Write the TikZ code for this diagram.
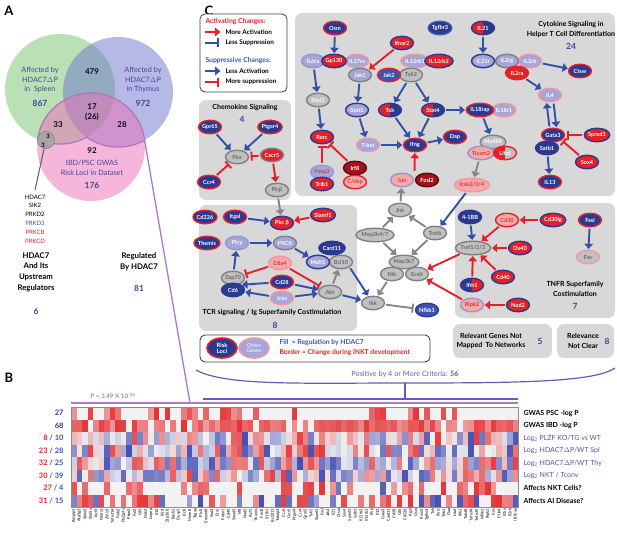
\documentclass[tikz,border=0pt]{standalone}
\usepackage{fontspec}
\setmainfont{Lato}
\usetikzlibrary{arrows.meta,shapes.geometric}

% gene colours
\definecolor{navyF}{RGB}{43,57,144}
\definecolor{blueF}{RGB}{62,84,178}
\definecolor{redF}{RGB}{230,32,40}
\definecolor{darkF}{RGB}{165,18,28}
\definecolor{darkB}{RGB}{90,10,15}
\definecolor{lavF}{RGB}{166,166,216}
\definecolor{lavB}{RGB}{150,150,208}
\definecolor{pinkF}{RGB}{246,168,168}
\definecolor{pinkB}{RGB}{244,150,160}
\definecolor{greyF}{RGB}{192,192,192}
\definecolor{greyB}{RGB}{128,128,128}
\definecolor{greyT}{RGB}{105,105,105}
\definecolor{geneRtxt}{RGB}{205,60,70}
% arrows, boxes, text
\definecolor{arrB}{RGB}{50,80,168}
\definecolor{arrR}{RGB}{232,30,40}
\definecolor{arrG}{RGB}{135,135,135}
\definecolor{boxF}{RGB}{216,216,216}
\definecolor{cntblue}{RGB}{60,70,160}
\definecolor{vtxt}{RGB}{70,70,155}
\definecolor{vgreen}{RGB}{130,200,120}
\definecolor{vblue}{RGB}{110,115,205}
\definecolor{vpink}{RGB}{235,110,180}
\definecolor{vline}{RGB}{175,120,195}
\definecolor{bracecol}{RGB}{95,95,180}
\definecolor{logpurp}{RGB}{105,75,160}
\definecolor{hmred}{RGB}{228,50,52}
\definecolor{hmblue}{RGB}{60,70,175}
\definecolor{hmwhite}{RGB}{242,242,242}

\begin{document}
\begin{tikzpicture}[x=1pt, y=-1pt,
    gene/.style={ellipse, line width=1.4pt, inner sep=0.2pt, minimum width=23pt,
      minimum height=13.5pt, font=\fontsize{5.6}{5.6}\selectfont\bfseries},
    navyfill/.style={fill=navyF, text=white},
    bluefill/.style={fill=blueF, text=white},
    redfill/.style={fill=redF, text=white},
    darkfill/.style={fill=darkF, text=white},
    lavfill/.style={fill=lavF, text=white},
    pinkfill/.style={fill=pinkF, text=geneRtxt},
    greyfill/.style={fill=greyF, text=greyT},
    navyrim/.style={draw=navyF},
    bluerim/.style={draw=blueF},
    redrim/.style={draw=redF},
    darkrim/.style={draw=darkB},
    lavrim/.style={draw=lavB},
    pinkrim/.style={draw=pinkB},
    greyrim/.style={draw=greyB},
    halves/.style 2 args={text=white, path picture={
        \fill[#1] (path picture bounding box.south west) rectangle (path picture bounding box.north);
        \fill[#2] (path picture bounding box.north) rectangle (path picture bounding box.south east);}},
    bluearr/.style={draw=arrB, line width=1.9pt, -{Triangle[length=5.2pt,width=8.5pt]}, shorten >=0.6pt, shorten <=1.2pt},
    redarr/.style={draw=arrR, line width=1.9pt, -{Triangle[length=5.2pt,width=8.5pt]}, shorten >=0.6pt, shorten <=1.2pt},
    greyarr/.style={draw=arrG, line width=1.9pt, -{Triangle[length=5.2pt,width=8.5pt]}, shorten >=0.6pt, shorten <=1.2pt},
    bluebar/.style={draw=arrB, line width=1.9pt, -{Bar[width=9pt,line width=1.9pt]}, shorten >=1.5pt, shorten <=1.2pt},
    redbar/.style={draw=arrR, line width=1.9pt, -{Bar[width=9pt,line width=1.9pt]}, shorten >=1.5pt, shorten <=1.2pt},
    greybar/.style={draw=arrG, line width=1.9pt, -{Bar[width=9pt,line width=1.9pt]}, shorten >=1.5pt, shorten <=1.2pt},
    panelbox/.style={fill=boxF, rounded corners=7pt},
    boxtitle/.style={font=\fontsize{7}{9.5}\selectfont\bfseries, align=center},
    count/.style={font=\fontsize{8.5}{9}\selectfont\bfseries, text=cntblue},
    panel/.style={font=\fontsize{13}{13}\selectfont\bfseries},
    vtext/.style={font=\fontsize{7.3}{9.5}\selectfont, text=vtxt, align=center},
    vnum/.style={font=\fontsize{8}{10}\selectfont\bfseries, text=black!80!navyF, align=center},
    legtext/.style={font=\fontsize{6.8}{7}\selectfont\bfseries, anchor=west},
    rowlab/.style={font=\fontsize{7}{7}\selectfont\bfseries, anchor=west},
    rownum/.style={font=\fontsize{7.5}{8}\selectfont\bfseries, anchor=east}]
  \useasboundingbox (0,0) rectangle (617,535);

  % ---------------- panel A: Venn ----------------
  \node[panel] (lblA) at (9,11) {A};
  \fill[vgreen, fill opacity=0.55] (60,89) circle[radius=55];
  \fill[vblue, fill opacity=0.5] (118,92) circle[radius=55];
  \fill[vpink, fill opacity=0.5] (91,147) circle[radius=54];
  % regulated by HDAC7 outline
  \draw[vline, line width=1.3pt] (37.6,139.2) arc[start angle=188.3, end angle=352.8, radius=54]
    arc[start angle=61.1, end angle=124.85, radius=55] arc[start angle=61.05, end angle=114, radius=55];
  \coordinate (vexit) at (144.6,140.2);
  \coordinate (hmjoin) at (190,403);
  \draw[vline, line width=1.3pt] (vexit) -- (hmjoin);
  % upstream regulators
  \node[circle, fill=black!35, draw=black!50, line width=0.6pt, minimum size=17pt, inner sep=0pt] (upc) at (46,140) {};
  \node[font=\fontsize{6}{6}\selectfont\bfseries] (up1) at (48,136) {3};
  \node[font=\fontsize{6}{6}\selectfont\bfseries] (up2) at (43,145) {3};
  \coordinate (uplist) at (35,190);
  \draw[black!60, line width=1.1pt] (upc) -- (uplist);

  \node[vtext] (spl) at (40,80) {Affected by\\HDAC7$\Delta$P\\in\ \ Spleen};
  \node[count] (n867) at (40,103) {867};
  \node[vtext] (thy) at (143,80) {Affected by\\HDAC7$\Delta$P\\in Thymus};
  \node[count] (n972) at (143,103) {972};
  \node[vnum] (n479) at (92,72) {479};
  \node[vnum] (n17) at (92,112) {17\\(26)};
  \node[vnum] (n33) at (58,125) {33};
  \node[vnum] (n28) at (122,125) {28};
  \node[vnum] (n92) at (92,151) {92};
  \node[vtext] (gwas) at (92,168) {IBD/PSC GWAS\\Risk Loci in Dataset};
  \node[count] (n176) at (92,185) {176};

  \node[font=\fontsize{6}{8.8}\selectfont, align=center] (hlist) at (35,219)
    {HDAC7\\SIK2\\PRKD2\\\textcolor{blueF}{PRKD3}\\\textcolor{redF}{PRKCB}\\\textcolor{redF}{PRKCD}};
  \node[font=\fontsize{7.8}{10.7}\selectfont\bfseries, align=center] (hreg) at (36,272)
    {HDAC7\\And Its\\Upstream\\Regulators};
  \node[count] (n6) at (36,311) {6};
  \node[font=\fontsize{7.8}{10.7}\selectfont\bfseries, align=center] (rbh) at (139,261.5)
    {Regulated\\By HDAC7};
  \node[count] (n81) at (139,288) {81};

  % ---------------- panel C: networks ----------------
  \node[panel] (lblC) at (209,11) {C};
  \fill[panelbox] (295,13) rectangle (615,196);
  \fill[panelbox] (199,100) rectangle (291,200);
  \fill[panelbox] (199,205) rectangle (357,331);
  \fill[panelbox] (455,203) rectangle (615,318);
  \fill[panelbox] (453,324) rectangle (552,358);
  \fill[panelbox] (557,324) rectangle (614,358);

  % legend of changes
  \draw[black!75, line width=0.8pt, rounded corners=5pt, fill=white] (200,14) rectangle (287,92);
  \node[legtext, text=redF] (lg1) at (202,22) {Activating Changes:};
  \coordinate (la1) at (205,32); \coordinate (lb1) at (221,32);
  \draw[redarr, shorten <=0pt] (la1) -- (lb1);
  \node[legtext, font=\fontsize{6.4}{7}\selectfont\bfseries] (lg2) at (222,32) {More Activation};
  \coordinate (la2) at (205,43); \coordinate (lb2) at (220,43);
  \draw[bluebar, shorten <=0pt] (la2) -- (lb2);
  \node[legtext, font=\fontsize{6.4}{7}\selectfont\bfseries] (lg3) at (222,43) {Less Suppression};
  \node[legtext, text=blueF] (lg4) at (202,61) {Suppressive Changes:};
  \coordinate (la3) at (205,71); \coordinate (lb3) at (221,71);
  \draw[bluearr, shorten <=0pt] (la3) -- (lb3);
  \node[legtext, font=\fontsize{6.4}{7}\selectfont\bfseries] (lg5) at (222,71) {Less Activation};
  \coordinate (la4) at (205,82); \coordinate (lb4) at (220,82);
  \draw[redbar, shorten <=0pt] (la4) -- (lb4);
  \node[legtext, font=\fontsize{6.4}{7}\selectfont\bfseries] (lg6) at (222,82) {More suppression};

  % box titles
  \node[boxtitle] (tcyt) at (571,29.5) {Cytokine Signaling in\\Helper T Cell Differentiation};
  \node[count] (n24) at (571,46) {24};
  \node[boxtitle] (tchem) at (245,108) {Chemokine Signaling};
  \node[count] (n4) at (242,119) {4};
  \node[boxtitle] (ttcr) at (272,313) {TCR signaling / Ig Superfamily Costimulation};
  \node[count] (n8a) at (275,325) {8};
  \node[boxtitle] (ttnfr) at (575,289) {TNFR Superfamily\\Costimulation};
  \node[count] (n7) at (575,306) {7};
  \node[boxtitle] (trel) at (491,341) {Relevant Genes Not\\Mapped\ \ To Networks};
  \node[count] (n5) at (540,341) {5};
  \node[boxtitle] (tnc) at (583,341) {Relevance\\Not Clear};
  \node[count] (n8b) at (607,341) {8};

  % cytokine signaling genes
  \node[gene,lavfill,lavrim] (il6ra) at (313,61) {IL6ra};
  \node[gene,lavfill,pinkrim] (il27ra) at (357,61) {IL27ra};
  \node[gene,redfill,navyrim] (gp130) at (334,61) {Gp130};
  \node[gene,navyfill,redrim] (osm) at (335,28) {Osm};
  \node[gene,redfill,navyrim] (ifnar2) at (402,43) {Ifnar2};
  \node[gene,lavfill,pinkrim] (il12rb1) at (415,61) {IL12rb1};
  \node[gene,redfill,navyrim] (il12rb2) at (439,61) {IL12rb2};
  \node[gene,lavfill,greyrim] (jak1) at (360,75) {Jak1};
  \node[gene,greyfill,greyrim] (tyk2) at (411,75) {Tyk2};
  \node[gene,bluefill,redrim] (jak2) at (389,75) {Jak2};
  \node[gene,navyfill,bluerim] (tgfbr3) at (440,28) {Tgfbr3};
  \node[gene,halves={redF}{navyF},navyrim] (il21) at (483,28) {IL21};
  \node[gene,lavfill,pinkrim] (il2rb) at (530,61) {IL2rb};
  \node[gene,lavfill,greyrim] (il2rg) at (507,61) {IL2rg};
  \node[gene,lavfill,navyrim] (il21r) at (483,61) {IL21r};
  \node[gene,redfill,redrim] (il2ra) at (517,73) {IL2ra};
  \node[gene,navyfill,redrim] (ctsw) at (580,71) {Ctsw};
  \node[gene,lavfill,pinkrim] (il4) at (550,95) {IL4};
  \node[gene,greyfill,greyrim,text=white] (stat3) at (318,100) {Stat3};
  \node[gene,lavfill,navyrim] (stat1) at (357,110) {Stat1};
  \node[gene,halves={redF}{navyF},navyrim] (txk) at (390,110) {Txk};
  \node[gene,halves={redF}{navyF},navyrim] (stat4) at (433,110) {Stat4};
  \node[gene,lavfill,pinkrim] (il18r1) at (504,110) {IL18r1};
  \node[gene,navyfill,redrim] (il18rap) at (480,110) {IL18rap};
  \node[gene,redfill,navyrim] (rorc) at (322,137) {Rorc};
  \node[gene,lavfill,pinkrim] (tbet) at (368,145) {T-bet};
  \node[gene,navyfill,redrim] (ifng) at (415,145) {Ifng};
  \node[gene,navyfill,redrim] (dap) at (455,137) {Dap};
  \node[gene,greyfill,greyrim,text=white] (myd88) at (493,142) {Myd88};
  \node[gene,pinkfill,lavrim] (ticam2) at (481,153) {Ticam2};
  \node[gene,halves={redF}{greyF},redrim] (litaf) at (505,153) {Litaf};
  \node[gene,pinkfill,pinkrim] (irak) at (472,185) {Irak2/3/4};
  \node[gene,lavfill,lavrim,text=geneRtxt] (foxp3) at (322,172) {Foxp3};
  \node[gene,redfill,navyrim] (trib1) at (322,184) {Trib1};
  \node[gene,darkfill,darkrim] (irf8) at (355,168) {Irf8};
  \node[gene,pinkfill,redrim] (cebp) at (355,182) {C/ebp};
  \node[gene,pinkfill,lavrim] (jun) at (402,180) {Jun};
  \node[gene,darkfill,darkrim] (fosl2) at (427,180) {Fosl2};
  \node[gene,navyfill,redrim] (gata3) at (553,135) {Gata3};
  \node[gene,navyfill,navyrim] (satb1) at (547,148) {Satb1};
  \node[gene,redfill,navyrim] (spred1) at (597,135) {Spred1};
  \node[gene,redfill,navyrim] (sox4) at (587,162) {Sox4};
  \node[gene,navyfill,redrim] (il13) at (550,182) {IL13};

  % chemokine signaling genes
  \node[gene,navyfill,redrim] (gpr65) at (210,127) {Gpr65};
  \node[gene,navyfill,redrim] (ptger4) at (270,127) {Ptger4};
  \node[gene,greyfill,greyrim] (pka) at (237,157) {Pka};
  \node[gene,redfill,greyrim] (cxcr5) at (272,155) {Cxcr5};
  \node[gene,navyfill,redrim] (ccr4) at (209,182) {Ccr4};
  \node[gene,greyfill,greyrim] (plcb) at (277,190) {Plcβ};

  % TCR signaling genes
  \node[gene,navyfill,redrim] (cd226) at (205,217) {Cd226};
  \node[gene,navyfill,redrim] (itgal) at (235,217) {Itgal};
  \node[gene,redfill,navyrim] (pkcb) at (282,223) {Pkc β};
  \node[gene,redfill,navyrim] (slamf1) at (323,215) {Slamf1};
  \node[gene,navyfill,redrim] (themis) at (207,243) {Themis};
  \node[gene,lavfill,lavrim] (plcg) at (237,243) {Plcγ};
  \node[gene,lavfill,greyrim] (pkct) at (285,243) {PKCθ};
  \node[gene,greyfill,greyrim] (bcl10) at (341,262) {Bcl10};
  \node[gene,lavfill,navyrim] (malt1) at (318,262) {Malt1};
  \node[gene,navyfill,navyrim] (card11) at (332,248) {Card11};
  \node[gene,pinkfill,pinkrim] (ctla4) at (280,263) {Ctla4};
  \node[gene,greyfill,greyrim] (zap70) at (233,278) {Zap70};
  \node[gene,navyfill,navyrim] (cd6) at (233,290) {Cd6};
  \node[gene,navyfill,redrim] (cd28) at (282,282) {Cd28};
  \node[gene,lavfill,pinkrim] (icos) at (282,298) {Icos};
  \node[gene,greyfill,greyrim] (akt) at (330,292) {Akt};

  % shared kinases
  \node[gene,greyfill,greyrim] (jnk) at (400,210) {Jnk};
  \node[gene,greyfill,greyrim] (map2k) at (375,235) {Map2k4/7};
  \node[gene,greyfill,greyrim] (traf6) at (435,233) {Traf6};
  \node[gene,greyfill,greyrim] (map3k7) at (404,262) {Map3k7};
  \node[gene,greyfill,greyrim] (nik) at (392,274) {Nik};
  \node[gene,greyfill,greyrim] (ecsit) at (417,274) {Ecsit};
  \node[gene,greyfill,greyrim] (ikk) at (373,303) {Ikk};
  \node[gene,bluefill,navyrim] (nfkb1) at (427,310) {Nfkb1};

  % TNFR superfamily genes
  \node[gene,navyfill,navyrim] (tnfrsf9) at (470,217) {4-1BB};
  \node[gene,pinkfill,redrim] (cd30) at (507,220) {Cd30};
  \node[gene,redfill,navyrim] (cd30lg) at (553,220) {Cd30lg};
  \node[gene,navyfill,redrim] (fasl) at (590,220) {Fasl};
  \node[gene,greyfill,greyrim] (traf) at (473,248) {Traf1/2/3};
  \node[gene,redfill,navyrim] (ox40) at (520,248) {Ox40};
  \node[gene,redfill,navyrim] (cd40) at (503,277) {Cd40};
  \node[gene,halves={navyF}{redF},navyrim] (ifih1) at (472,285) {Ifih1};
  \node[gene,pinkfill,lavrim] (ripk2) at (472,305) {Ripk2};
  \node[gene,redfill,navyrim] (nod2) at (518,305) {Nod2};
  \node[gene,greyfill,pinkrim] (fas) at (588,257) {Fas};

  % cytokine edges
  \draw[bluearr] (osm) -- (gp130);
  \draw[redarr] (ifnar2) -- (jak1.north east);
  \draw[bluearr] (il6ra) -- (stat3);
  \draw[bluearr] (stat3) -- (rorc);
  \draw[bluearr] (jak1) -- (stat1);
  \draw[bluearr] (tyk2) -- (txk);
  \draw[bluearr] (tyk2) -- (stat4);
  \draw[bluearr] (stat1) -- (tbet);
  \draw[bluearr] (txk) -- (ifng);
  \draw[bluearr] (stat4) -- (ifng);
  \draw[bluearr] (tbet) -- (ifng);
  \draw[bluearr] (stat4) -- (il18rap);
  \draw[bluearr] (il18rap) -- (myd88);
  \draw[bluearr] (ifng) -- (dap);
  \draw[greyarr] (ticam2) -- (irak);
  \draw[bluearr] (irak) -- (traf6);
  \coordinate (apjun) at (414.5,172);
  \draw[redarr] (apjun) -- (ifng);
  \draw[redbar] (foxp3) -- (rorc);
  \draw[redbar] (irf8) -- (rorc);
  \draw[bluearr] (il21) -- (il21r);
  \draw[bluearr] (il2rb) -- (ctsw);
  \draw[bluearr] (il2ra) -- (il4);
  \draw[bluearr] ([xshift=-3.5pt]gata3.north) -- ([xshift=-3.5pt]il4.south);
  \draw[bluearr] ([xshift=3.5pt]il4.south) -- ([xshift=3.5pt]gata3.north);
  \draw[redbar] (spred1) -- (gata3);
  \draw[redbar] (sox4) -- (gata3.south east);
  \draw[bluearr] (satb1) -- (il13);

  % chemokine edges
  \draw[bluearr] (gpr65) -- (pka);
  \draw[bluearr] (ptger4) -- (pka);
  \draw[redbar] (ccr4) -- (pka);
  \draw[redbar] (cxcr5) -- (pka);
  \draw[redarr] (cxcr5) -- (plcb);
  \draw[greyarr] (plcb) -- (pkcb);

  % TCR edges
  \draw[bluearr] (itgal) -- (pkcb);
  \draw[redarr] (slamf1) -- (pkcb);
  \draw[bluearr] (plcg) -- (pkct);
  \draw[bluearr] (pkct) -- (malt1);
  \draw[bluearr] (zap70) -- (plcg);
  \draw[bluearr] (cd28) -- (cd6.north east);
  \draw[bluearr] (icos) -- (cd6);
  \draw[redbar] (ctla4) -- (zap70);
  \draw[redbar] (ctla4) -- (akt);
  \draw[bluearr] (cd28) -- (akt);
  \draw[bluearr] (icos) -- (akt);
  \draw[greyarr] (akt) -- (bcl10);
  \draw[bluearr] (bcl10.south east) -- (ikk);
  \draw[bluearr] (akt) -- (ikk);
  \draw[greybar] (ikk) -- (nfkb1);

  % kinase edges
  \draw[greyarr] (map2k) -- (jnk);
  \draw[greyarr] (traf6) -- (jnk);
  \draw[greyarr] (jnk) -- (jun);
  \draw[greyarr] (traf6) -- (map3k7);
  \draw[greyarr] (map2k) -- (map3k7);
  \draw[greyarr] (nik) -- (ikk);

  % TNFR edges
  \draw[bluearr] (tnfrsf9) -- (traf);
  \draw[redarr] (cd30lg) -- (cd30);
  \draw[redarr] (cd30) -- (traf);
  \draw[redarr] (ox40) -- (traf);
  \draw[redarr] (cd40) -- (traf);
  \draw[redarr] (ifih1) -- (traf);
  \draw[redarr] (nod2) -- (ripk2);
  \draw[redarr] (ripk2) -- (ecsit);
  \draw[redarr] (traf) -- (ecsit);
  \draw[bluearr] (fasl) -- (fas);

  % fill / border legend
  \draw[black!75, line width=0.9pt, rounded corners=5pt] (200,335) rectangle (430,362);
  \node[ellipse, fill=navyF, draw=redF, line width=1.6pt, minimum width=30pt, minimum height=20pt,
    inner sep=0pt, text=white, align=center, font=\fontsize{5.8}{5.8}\selectfont\bfseries] (risk) at (222,348) {Risk\\Loci};
  \node[ellipse, fill=lavF, draw=pinkB, line width=1.6pt, minimum width=30pt, minimum height=20pt,
    inner sep=0pt, text=white, align=center, font=\fontsize{5.2}{5.2}\selectfont] (other) at (254,348) {Other\\Genes};
  \node[legtext, text=blueF] (fillt) at (276,343) {Fill\ \ = Regulation by HDAC7};
  \node[legtext, text=redF] (bordt) at (276,353) {Border = Change during iNKT development};

  % positive by 4 or more criteria
  \coordinate (brl) at (196,370);
  \coordinate (brm) at (405,383);
  \coordinate (brr) at (615,368);
  \coordinate (brs) at (405,398);
  \draw[bracecol, line width=1.2pt] (brl) .. controls (225,386) and (300,383) .. (brm)
    .. controls (520,383) and (595,382) .. (brr);
  \draw[bracecol, line width=1.2pt] (brm) -- (brs);
  \node[font=\fontsize{7.3}{8}\selectfont, text=bracecol] (pos) at (405,374) {Positive by 4 or More Criteria: \textbf{56}};

  % ---------------- panel B: heatmap ----------------
  \node[panel] (lblB) at (9,378) {B};
  \coordinate (hb1) at (203,399); \coordinate (hb2) at (518,399);
  \draw[bracecol, line width=1.2pt] (hb1) -- (hb2);
  \coordinate (hl1) at (71,403); \coordinate (hl2) at (518,403);
  \draw[vline, line width=1.3pt] (hl1) -- (hl2);
  \node[font=\fontsize{6.3}{7}\selectfont, text=vline!80!black] (pval) at (113,396) {P = 3.49 X 10\textsuperscript{-16}};

  \pgfmathsetseed{4711}
  \foreach \r/\kind/\tr/\tb in {0/g/0.33/-2,1/g/-0.68/-2,2/c/0/0,3/c/0/0,4/c/0/0,5/c/0/0,6/k/0.33/-0.9,7/k/0.23/-0.63}{
    \foreach \c in {0,...,80}{
      \pgfmathsetmacro{\v}{rand}
      \pgfmathtruncatemacro{\p}{abs(\v)*95}
      \pgfmathtruncatemacro{\q}{45+55*rnd}
      \pgfmathtruncatemacro{\isr}{\v>\tr}
      \pgfmathtruncatemacro{\isb}{\v<\tb}
      \if c\kind
        \ifnum\isr=1 \def\col{hmred!\p!hmwhite}\else\def\col{hmblue!\p!hmwhite}\fi
      \else
        \def\col{hmwhite}
        \ifnum\isr=1 \def\col{hmred!\q!hmwhite}\fi
        \ifnum\isb=1 \def\col{hmblue!\q!hmwhite}\fi
      \fi
      \fill[fill=\col] ({71+\c*5.52},{407+\r*12.5}) rectangle ++(5.52,12.5);
    }
  }
  \draw[black!45, line width=0.5pt] (71,407) rectangle (518,507);

  % row counts
  \node[rownum, text=navyF] (r0) at (67,413.25) {27};
  \node[rownum, text=navyF] (r1) at (67,425.75) {68};
  \node[rownum] (r2) at (67,438.25) {\textcolor{redF}{8} \textcolor{blueF}{/ 10}};
  \node[rownum] (r3) at (67,450.75) {\textcolor{redF}{23} \textcolor{blueF}{/ 28}};
  \node[rownum] (r4) at (67,463.25) {\textcolor{redF}{32} \textcolor{blueF}{/ 25}};
  \node[rownum] (r5) at (67,475.75) {\textcolor{redF}{30} \textcolor{blueF}{/ 39}};
  \node[rownum] (r6) at (67,488.25) {\textcolor{redF}{27} \textcolor{blueF}{/ 4}};
  \node[rownum] (r7) at (67,500.75) {\textcolor{redF}{31} \textcolor{blueF}{/ 15}};

  % row names
  \node[rowlab] (t0) at (520,413.25) {GWAS PSC -log P};
  \node[rowlab] (t1) at (520,425.75) {GWAS IBD -log P};
  \node[rowlab, text=logpurp, font=\fontsize{7}{7}\selectfont] (t2) at (520,438.25) {Log\textsubscript{2} PLZF KO/TG vs WT};
  \node[rowlab, text=logpurp, font=\fontsize{7}{7}\selectfont] (t3) at (520,450.75) {Log\textsubscript{2} HDAC7$\Delta$P/WT Spl};
  \node[rowlab, text=logpurp, font=\fontsize{7}{7}\selectfont] (t4) at (520,463.25) {Log\textsubscript{2} HDAC7$\Delta$P/WT Thy};
  \node[rowlab, text=logpurp, font=\fontsize{7}{7}\selectfont] (t5) at (520,475.75) {Log\textsubscript{2} NKT / Tconv};
  \node[rowlab] (t6) at (520,488.25) {Affects NKT Cells?};
  \node[rowlab] (t7) at (520,500.75) {Affects AI Disease?};

  % gene names under the columns
  \foreach \g [count=\i from 0] in {Rasgrp1,Atp5g3,Sbno2,Stat5a,Ikzf3,Nfatc1,Zmiz1,Tnfrsf14,Fads2,Pla2g4a,
      Ptpn2,Fut2,Cd5,Dok3,Lnpep,Il10,Il6st,Zfp36l1,Bach2,Dusp5,Bcl6,Mmel1,Tagap,Plcl1,Zmynd8,Stat3,
      Ets1,Prdm1,Cd40,Smad3,Irf8,Nod2,Ikzf1,Themis,Fosl2,Il18r1,Bcl2l11,Tnfaip3,Ccr6,Cxcr5,Ptger4,
      Ccr4,Gpr65,Tyk2,Slamf1,Fasl,Jak2,Il21,Ctsw,Sox4,Spred1,Satb1,Il12rb2,Il12rb1,Ifng,Il13,Gata3,
      Card11,Cd28,Cd6,Cd226,Itgal,Osm,Ifnar2,Tgfbr3,Txk,Rorc,Trib1,Dap,Litaf,Ifih1,Tnfsf8,Tnfrsf4,
      Tnfrsf9,Nfkb1,Ripk2,Icos,Ctla4,Il2ra,Il2rb,Il18rap}{
    \node[rotate=90, anchor=east, inner sep=0.5pt, font=\fontsize{4}{4}\selectfont] (g\i) at ({71+5.52*(\i+0.5)},508) {\g};
  }
\end{tikzpicture}
\end{document}
